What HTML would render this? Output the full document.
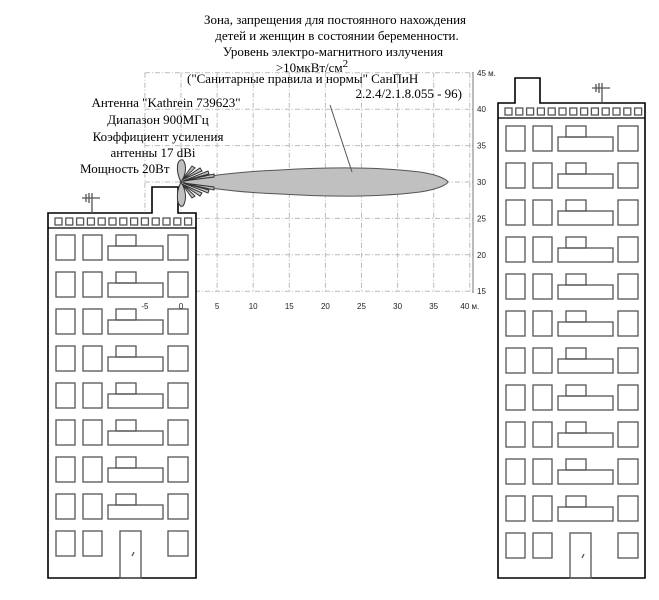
<!DOCTYPE html>
<html><head><meta charset="utf-8"><style>
html,body{margin:0;padding:0;background:#fff;}
svg{display:block;}
text{font-family:"Liberation Serif",serif;font-size:13px;fill:#000;}
.ax text{font-family:"Liberation Sans",sans-serif;font-size:8px;fill:#222;}
</style></head><body>
<svg id="s" width="659" height="600" viewBox="0 0 659 600" xmlns="http://www.w3.org/2000/svg">
<g id="grid" stroke="#bbb" stroke-width="1" stroke-dasharray="5,2,1,2" fill="none"></g>
<line x1="473" y1="72" x2="473" y2="293" stroke="#777" stroke-width="1"/>
<g id="bld" fill="none" stroke="#555" stroke-width="1.3"></g>
<path d="M181,182 C200,177 230,172 280,170 C330,167 380,167 420,172 C440,175 447,180 448,182 C447,184 440,189 420,192 C380,197 330,197 280,194 C230,192 200,187 181,182 Z" fill="#c0c0c0" stroke="#555" stroke-width="1"/>
<g fill="#c0c0c0" stroke="#333" stroke-width="1">
<path d="M181,182 C175,170 177,158 183,160 C187,165 186,175 181,182Z"/>
<path d="M181,182 C175,194 177,208 183,206 C187,200 186,190 181,182Z"/>
<path d="M182,180 L192,166 L195,168 Z M182,180 L200,168 L202,171 Z M183,181 L208,171 L209,174 Z M183,181 L214,174 L214,177 Z"/>
<path d="M182,184 L192,198 L195,196 Z M182,184 L200,196 L202,193 Z M183,183 L208,193 L209,190 Z M183,183 L214,190 L214,187 Z"/>
</g>
<line x1="330" y1="105" x2="352" y2="172" stroke="#555" stroke-width="1"/>
<g id="axl" class="ax"></g>
<text x="335" y="24" text-anchor="middle">Зона,  запрещения для постоянного нахождения</text>
<text x="337" y="40" text-anchor="middle">детей и женщин в состоянии беременности.</text>
<text x="333" y="56" text-anchor="middle">Уровень электро-магнитного излучения</text>
<text x="312" y="72" text-anchor="middle">&gt;10мкВт/см<tspan dy="-5" font-size="11">2</tspan></text>
<text x="187" y="83">("Санитарные правила и нормы" СанПиН</text>
<text x="462" y="98" text-anchor="end">2.2.4/2.1.8.055 - 96)</text>
<text x="166" y="107" text-anchor="middle">Антенна "Kathrein 739623"</text>
<text x="158" y="124" text-anchor="middle">Диапазон 900МГц</text>
<text x="158" y="141" text-anchor="middle">Коэффициент усиления</text>
<text x="153" y="157" text-anchor="middle">антенны 17 dBi</text>
<text x="80" y="173">Мощность 20Вт</text>
</svg>
<script>
var NS="http://www.w3.org/2000/svg";
function el(p,t,a){var e=document.createElementNS(NS,t);for(var k in a)e.setAttribute(k,a[k]);p.appendChild(e);return e;}
var g=document.getElementById('grid');
function X(v){return 181+v*7.22;}function Y(v){return 182-(v-30)*7.28;}
for(var v=-5;v<=40;v+=5)el(g,'line',{x1:X(v),y1:Y(45),x2:X(v),y2:Y(15)});
for(var v=15;v<=45;v+=5)el(g,'line',{x1:X(-5),y1:Y(v),x2:473,y2:Y(v)});
var ax=document.getElementById('axl');
for(var v=-5;v<=40;v+=5){var t=el(ax,'text',{x:X(v),y:309,'text-anchor':'middle'});t.textContent=(v==40?'40 м.':v);}
for(var v=15;v<=45;v+=5){var t=el(ax,'text',{x:477,y:Y(v)+3});t.textContent=(v==45?'45 м.':v);}
var b=document.getElementById('bld');
function building(x0,x1,top,tx0,tx1,ttop,ant,bottom,rows0,n){
 el(b,'path',{d:'M'+x0+','+bottom+' L'+x0+','+top+' L'+tx0+','+top+' L'+tx0+','+ttop+' L'+tx1+','+ttop+' L'+tx1+','+top+' L'+x1+','+top+' L'+x1+','+bottom+' Z',fill:'#fff',stroke:'#000','stroke-width':1.6});
 el(b,'line',{x1:x0,y1:top+15,x2:x1,y2:top+15,stroke:'#000'});
 for(var i=0;i<13;i++)el(b,'rect',{x:x0+7+i*10.8,y:top+5,width:7,height:7});
 el(b,'line',{x1:ant,y1:top,x2:ant,y2:top-20,stroke:'#555'});
 el(b,'line',{x1:ant-10,y1:top-15,x2:ant+8,y2:top-15,stroke:'#555'});
 el(b,'line',{x1:ant-6,y1:top-19,x2:ant-6,y2:top-11,stroke:'#555'});
 el(b,'line',{x1:ant-3,y1:top-20,x2:ant-3,y2:top-10,stroke:'#555'});
 for(var r=0;r<=n;r++){var y=rows0+r*37;var h=25;
  el(b,'rect',{x:x0+8,y:y,width:19,height:h});
  el(b,'rect',{x:x0+35,y:y,width:19,height:h});
  el(b,'rect',{x:x0+120,y:y,width:20,height:h});
  if(r<n){el(b,'rect',{x:x0+68,y:y,width:20,height:11});el(b,'rect',{x:x0+60,y:y+11,width:55,height:14});}
  else{el(b,'rect',{x:x0+72,y:y,width:21,height:bottom-y});el(b,'line',{x1:x0+84,y1:y+25,x2:x0+86,y2:y+21});}
 }
}
building(48,196,213,152,178,187,92,578,235,8);
building(498,645,103,515,540,78,602,578,126,11);
</script>
</body></html>
